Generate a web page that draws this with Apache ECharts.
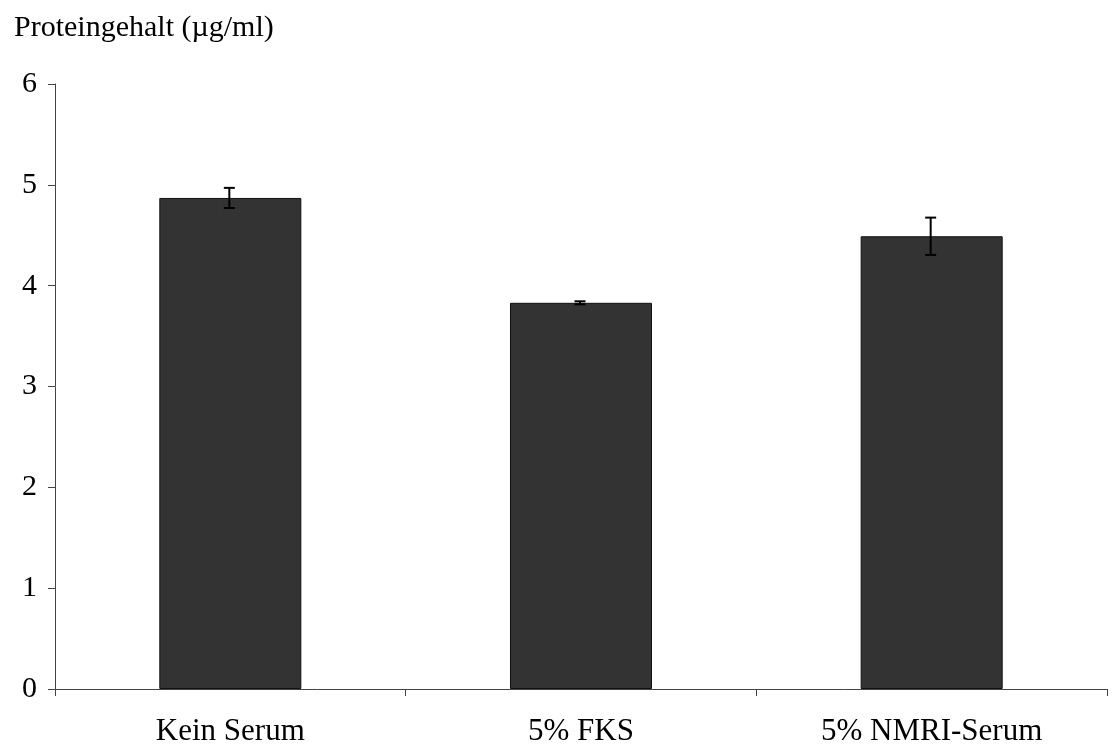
<!DOCTYPE html>
<html>
<head>
<meta charset="utf-8">
<script src="https://cdn.jsdelivr.net/npm/echarts@6/dist/echarts.min.js"></script>
<style>html,body{margin:0;padding:0;background:#fff;}#c{width:1113px;height:747px;}</style>
</head>
<body>
<div id="c"></div>
<script>
const categories = ['Kein Serum', '5% FKS', '5% NMRI-Serum'];
const values = [4.87, 3.83, 4.49];
const errors = [0.10, 0.015, 0.185];
const yTicks = [0, 1, 2, 3, 4, 5, 6];

const font = '"Liberation Serif", "Times New Roman", serif';
const chart = echarts.init(document.getElementById('c'));
chart.setOption({
  animation: false,
  backgroundColor: '#fff',
  title: {
    text: 'Proteingehalt (µg/ml)',
    left: 9, top: 8,
    textStyle: { fontFamily: font, fontSize: 30, fontWeight: 'normal', color: '#000' }
  },
  grid: { left: 55, right: 6, top: 84, bottom: 57, containLabel: false },
  xAxis: {
    type: 'category',
    data: categories,
    boundaryGap: true,
    axisLine: { show: true, lineStyle: { color: '#444', width: 1 } },
    axisTick: { show: true, length: 7, inside: false, interval: 0, lineStyle: { color: '#444' } },
    axisLabel: { fontFamily: font, fontSize: 31, color: '#000', margin: 27, interval: 0 },
    splitLine: { show: false }
  },
  yAxis: {
    type: 'value',
    min: yTicks[0], max: yTicks[yTicks.length - 1], interval: 1,
    axisLine: { show: true, lineStyle: { color: '#444', width: 1 } },
    axisTick: { show: true, length: 7, inside: false, lineStyle: { color: '#444' } },
    axisLabel: { fontFamily: font, fontSize: 30, color: '#000', margin: 18 },
    splitLine: { show: false }
  },
  series: [
    {
      type: 'bar',
      data: values,
      barWidth: '40.5%',
      itemStyle: { color: '#333333', borderColor: '#111', borderWidth: 1 }
    },
    {
      type: 'custom',
      data: values.map((v, i) => [i, v - errors[i], v + errors[i]]),
      renderItem: function (params, api) {
        const x = api.value(0);
        const lo = api.coord([x, api.value(1)]);
        const hi = api.coord([x, api.value(2)]);
        const cx = lo[0] - 1;
        const hw = 5.5;
        const st = { stroke: '#000', lineWidth: 2 };
        return {
          type: 'group',
          children: [
            { type: 'line', shape: { x1: cx, y1: lo[1], x2: cx, y2: hi[1] }, style: st },
            { type: 'line', shape: { x1: cx - hw, y1: lo[1], x2: cx + hw, y2: lo[1] }, style: st },
            { type: 'line', shape: { x1: cx - hw, y1: hi[1], x2: cx + hw, y2: hi[1] }, style: st }
          ]
        };
      },
      z: 10
    }
  ]
});
</script>
</body>
</html>
